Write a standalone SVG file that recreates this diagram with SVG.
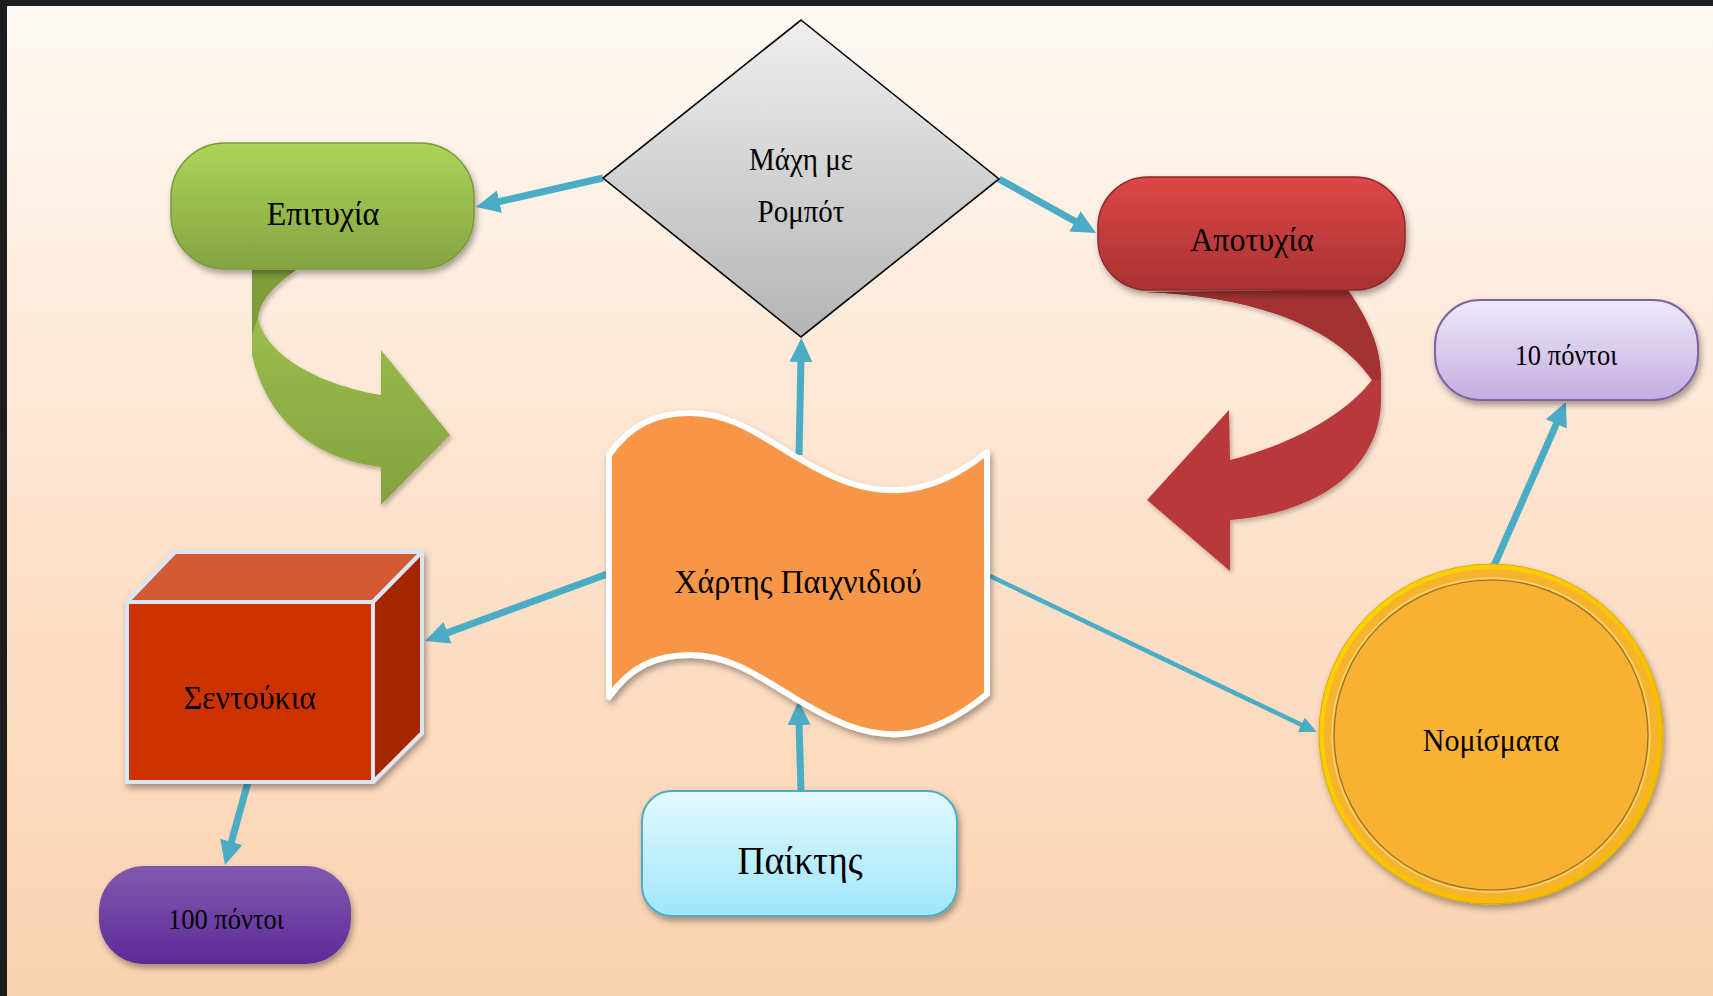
<svg xmlns="http://www.w3.org/2000/svg" width="1713" height="996" viewBox="0 0 1713 996">
<defs>
<linearGradient id="bg" x1="0" y1="0" x2="0" y2="1">
<stop offset="0" stop-color="#fffaf5"/><stop offset="0.5" stop-color="#fde3ce"/><stop offset="1" stop-color="#fad2af"/>
</linearGradient>
<linearGradient id="gGreen" x1="0" y1="0" x2="0" y2="1"><stop offset="0" stop-color="#acd458"/><stop offset="1" stop-color="#84a342"/></linearGradient>
<linearGradient id="gGreenArrow" x1="0" y1="0" x2="0" y2="1"><stop offset="0" stop-color="#9fc450"/><stop offset="1" stop-color="#84a23f"/></linearGradient>
<linearGradient id="gRed" x1="0" y1="0" x2="0" y2="1"><stop offset="0" stop-color="#de4747"/><stop offset="1" stop-color="#a83131"/></linearGradient>
<linearGradient id="gGrey" x1="0" y1="0" x2="0" y2="1"><stop offset="0" stop-color="#efefef"/><stop offset="1" stop-color="#b4b4b4"/></linearGradient>
<linearGradient id="gLilac" x1="0" y1="0" x2="0" y2="1"><stop offset="0" stop-color="#efeaf9"/><stop offset="1" stop-color="#c3ade0"/></linearGradient>
<linearGradient id="gPurple" x1="0" y1="0" x2="0" y2="1"><stop offset="0" stop-color="#8159b0"/><stop offset="1" stop-color="#5d2a98"/></linearGradient>
<linearGradient id="gCyan" x1="0" y1="0" x2="0" y2="1"><stop offset="0" stop-color="#e3f9ff"/><stop offset="1" stop-color="#9fe6fb"/></linearGradient>
<linearGradient id="gGold" x1="0" y1="0" x2="1" y2="1"><stop offset="0" stop-color="#ffd400"/><stop offset="1" stop-color="#f2b600"/></linearGradient>
<filter id="sh" x="-20%" y="-20%" width="140%" height="150%"><feDropShadow dx="2" dy="4" stdDeviation="3" flood-color="#000" flood-opacity="0.35"/></filter>
<filter id="shl" x="-20%" y="-20%" width="140%" height="150%"><feDropShadow dx="2" dy="3" stdDeviation="2" flood-color="#000" flood-opacity="0.25"/></filter>
<marker id="ah" markerUnits="userSpaceOnUse" markerWidth="26" markerHeight="24" refX="4" refY="12" orient="auto" viewBox="0 0 26 24">
<path d="M0,0.5 L24,12 L0,23.5 Z" fill="#4bacc6"/>
</marker>
<marker id="ahs" markerUnits="userSpaceOnUse" markerWidth="18" markerHeight="18" refX="3" refY="8" orient="auto" viewBox="0 0 18 16">
<path d="M0,0 L17,8 L0,16 Z" fill="#4bacc6"/>
</marker>
<style>
.t{font-family:"Liberation Serif","Times New Roman",serif;fill:#000;text-anchor:middle}
.c{stroke:#4bacc6;stroke-width:7;fill:none;marker-end:url(#ah)}
</style>
</defs>
<rect width="1713" height="996" fill="url(#bg)"/>
<rect x="0" y="0" width="1713" height="6" fill="#1e1e1e"/>
<rect x="0" y="0" width="7" height="996" fill="#1e1e1e"/>

<g id="arrow-success" filter="url(#shl)">
<path d="M252,270 L296,270 C275,285 260,300 258,318 C265,355 320,385 381,395 L381,350 L450,435 L381,505 L381,467 C320,460 268,425 252,355 Z" fill="url(#gGreenArrow)"/>
<path d="M252,270 L296,270 C275,285 260,300 258,318 L252,335 Z" fill="#7f9e3b"/>
</g>
<g id="arrow-failure" filter="url(#shl)">
<path d="M1146,292 L1348,290 C1368,320 1381,345 1381,380 L1381,400 C1381,460 1330,512 1230,520 L1230,571 L1147,500 L1229,410 L1230,460 C1290,445 1345,415 1372,380 C1335,325 1250,296 1146,292 Z" fill="#b9393a"/>
<path d="M1146,292 L1348,290 C1368,320 1381,345 1381,380 L1372,380 C1335,325 1250,296 1146,292 Z" fill="#a33132"/>
</g>

<g id="connectors">
<line class="c" x1="603" y1="178" x2="495.5" y2="202.5"/>
<line class="c" x1="999" y1="179" x2="1078.5" y2="223.3"/>
<line class="c" x1="799" y1="455" x2="801" y2="358"/>
<line class="c" x1="801" y1="791" x2="799" y2="721"/>
<line class="c" x1="610" y1="573" x2="443.8" y2="634.1"/>
<line class="c" x1="248" y1="782" x2="230.3" y2="845.7"/>
<line x1="990" y1="576" x2="1304" y2="726" stroke="#4bacc6" stroke-width="4.5" marker-end="url(#ahs)"/>
<line class="c" x1="1493" y1="568" x2="1557.9" y2="420.3"/>
</g>

<g id="epitychia">
<rect x="171" y="143" width="303" height="126" rx="54" ry="54" fill="url(#gGreen)" stroke="#7a9a3a" stroke-width="1.5" filter="url(#sh)"/>
<text class="t" transform="translate(323,225) scale(1,1.08)" font-size="32">Επιτυχία</text>
</g>

<g id="machi">
<path d="M801,20 L999,179 L801,337 L603,178 Z" fill="url(#gGrey)" stroke="#000" stroke-width="1.6"/>
<text class="t" transform="translate(801,170) scale(1,1.08)" font-size="29">Μάχη με</text>
<text class="t" transform="translate(801,222) scale(1,1.08)" font-size="29">Ρομπότ</text>
</g>

<g id="apotychia">
<rect x="1098" y="177" width="307" height="113" rx="50" ry="50" fill="url(#gRed)" stroke="#8e2a2a" stroke-width="1.5" filter="url(#sh)"/>
<text class="t" transform="translate(1252,251) scale(1,1.08)" font-size="32">Αποτυχία</text>
</g>

<g id="deka-pontoi">
<rect x="1435" y="300" width="263" height="100" rx="45" ry="45" fill="url(#gLilac)" stroke="#8064a2" stroke-width="2" filter="url(#sh)"/>
<text class="t" transform="translate(1566,365) scale(1,1.08)" font-size="26.5">10 πόντοι</text>
</g>

<g id="chartis">
<path d="M609,455 C630,425 655,413 691,413 C730,413 760,435 798,458 C835,480 865,492 900,490 C935,488 965,470 987,452 L987,694 C965,712 935,732 900,734 C865,736 835,722 798,700 C760,677 730,655 691,655 C655,655 630,667 609,697 Z" fill="#f79646" stroke="#fff" stroke-width="6" stroke-linejoin="round" filter="url(#sh)"/>
<text class="t" transform="translate(798,593) scale(1,1.08)" font-size="32">Χάρτης Παιχνιδιού</text>
</g>

<g id="sentoukia" filter="url(#sh)">
<polygon points="127,602 175,552 422,552 373,602" fill="#d45a34" stroke="#dce6f2" stroke-width="4" stroke-linejoin="round"/>
<polygon points="373,602 422,552 422,733 373,782" fill="#a32600" stroke="#dce6f2" stroke-width="4" stroke-linejoin="round"/>
<rect x="127" y="602" width="246" height="180" fill="#cc3300" stroke="#dce6f2" stroke-width="4"/>
<text class="t" transform="translate(250,709) scale(1,1.08)" font-size="32">Σεντούκια</text>
</g>

<g id="ekato-pontoi">
<rect x="99" y="866" width="252" height="98" rx="45" ry="45" fill="url(#gPurple)" filter="url(#sh)"/>
<text class="t" transform="translate(226,929) scale(1,1.08)" font-size="26.5">100 πόντοι</text>
</g>

<g id="paiktis">
<rect x="642" y="791" width="315" height="125" rx="30" ry="30" fill="url(#gCyan)" stroke="#4bacc6" stroke-width="2" filter="url(#sh)"/>
<text class="t" transform="translate(800,874) scale(1,1.08)" font-size="37.5">Παίκτης</text>
</g>

<g id="nomismata">
<ellipse cx="1491" cy="734" rx="172" ry="170" fill="url(#gGold)" stroke="#e2a900" stroke-width="1" filter="url(#sh)"/>
<ellipse cx="1491" cy="734" rx="167" ry="165" fill="#f6b42c"/>
<ellipse cx="1491" cy="735" rx="159" ry="157" fill="none" stroke="#ffd277" stroke-width="1.5"/>
<ellipse cx="1491" cy="735" rx="157" ry="155" fill="#f8b133" stroke="#94712a" stroke-width="1.2"/>
<text class="t" transform="translate(1491,751) scale(1,1.08)" font-size="30">Νομίσματα</text>
</g>
</svg>
